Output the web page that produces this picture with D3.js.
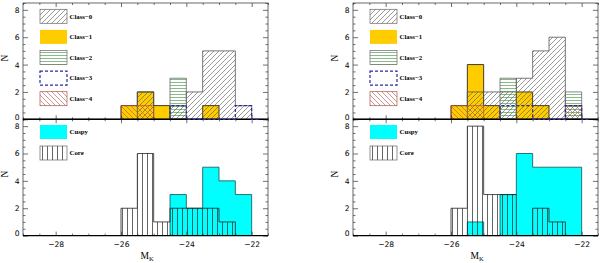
<!DOCTYPE html>
<html><head><meta charset="utf-8">
<script src="https://cdn.jsdelivr.net/npm/d3@7"></script>
<style>body{margin:0;background:#fff}</style>
</head><body><svg id="c" width="600" height="263"></svg>
<script>
// ---------- data ----------
const binStarts = [-26, -25.5, -25, -24.5, -24, -23.5, -23, -22.5];
const binWidth = 0.5;
const xTicks = [-28, -26, -24, -22];
const yTicks = [0, 2, 4, 6, 8];
const classNames = ["Class\u22120", "Class\u22121", "Class\u22122", "Class\u22123", "Class\u22124"];
const morphNames = ["Cuspy", "Core"];

const leftClass0 = [0, 2, 0, 1, 2, 5, 5, 1];
const leftClass1 = [1, 2, 1, 0, 0, 1, 0, 0];
const leftClass2 = [0, 0, 0, 3, 0, 0, 0, 0];
const leftClass3 = [0, 0, 0, 1, 0, 0, 0, 1];
const leftClass4 = [1, 1, 0, 0, 0, 0, 0, 0];
const leftCuspy  = [0, 0, 0, 3, 2, 5, 4, 3];
const leftCore   = [2, 6, 1, 2, 2, 2, 1, 0];

const rightClass0 = [0, 2, 2, 2, 3, 5, 6, 1];
const rightClass1 = [1, 4, 1, 0, 2, 1, 0, 0];
const rightClass2 = [0, 0, 0, 3, 0, 0, 0, 2];
const rightClass3 = [0, 0, 0, 1, 1, 0, 0, 1];
const rightClass4 = [1, 1, 0, 0, 0, 0, 0, 1];
const rightCuspy  = [0, 1, 0, 3, 6, 5, 5, 5];
const rightCore   = [2, 8, 3, 3, 0, 2, 1, 0];

// ---------- layout ----------
const svg = d3.select("#c");
const PW = 245;
const topRange = [119.3, 3], botRange = [235.6, 119.3];
const YELLOW = "#FFCC00", CYAN = "#00FFFF";
const C0 = "#555", C2 = "#3a8a3a", C3 = "#2a2aa0", C4 = "#b0504a";

const defs = svg.append("defs");
function pat(id, size, d, color, w) {
  const p = defs.append("pattern").attr("id", id).attr("patternUnits", "userSpaceOnUse")
    .attr("width", size).attr("height", size);
  p.append("path").attr("d", d).attr("stroke", color).attr("stroke-width", w).attr("fill", "none");
}
pat("h0", 5, "M-1,1 L1,-1 M0,5 L5,0 M4,6 L6,4", C0, 0.6);
pat("h4", 5, "M-1,4 L1,6 M0,0 L5,5 M4,-1 L6,1", C4, 0.6);
pat("h2", 3, "M0,1.5 L3,1.5", C2, 0.6);
pat("hv", 5, "M2.5,0 L2.5,5", "#222", 0.7);

function stepPts(counts, extend) {
  const first = counts.findIndex(c => c > 0);
  let last = counts.length - 1;
  while (last >= 0 && counts[last] === 0) last--;
  const pts = [[binStarts[first], 0]];
  for (let i = first; i <= last; i++) {
    pts.push([binStarts[i], counts[i]]);
    pts.push([binStarts[i] + binWidth, counts[i]]);
  }
  pts.push([binStarts[last] + binWidth, 0]);
  if (extend !== undefined) pts.push([extend, 0]);
  return pts;
}
function drawHist(g, x, y, counts, o) {
  const line = d3.line().x(d => x(d[0])).y(d => y(d[1]));
  const pts = stepPts(counts, o.extend);
  if (o.fill) g.append("path").attr("d", line(pts) + "Z").attr("fill", o.fill).attr("stroke", "none");
  g.append("path").attr("d", line(pts)).attr("fill", "none")
    .attr("stroke", o.stroke).attr("stroke-width", o.sw || 0.8)
    .attr("stroke-dasharray", o.dash || null);
}

function axisStyle(a) {
  a.select(".domain").remove();
  a.selectAll("line").attr("stroke", "#333").attr("stroke-width", 0.7);
  a.selectAll("text").attr("font-family", "DejaVu Sans").attr("font-size", 7.6).attr("fill", "#000");
}

function frame(px, yr, xLabels) {
  const x = d3.scaleLinear().domain([-29, -21.5]).range([px, px + PW]);
  const y = d3.scaleLinear().domain([0, 8.5]).range(yr);
  const xMinor = d3.range(-29, -21.49, 0.5).filter(v => !xTicks.includes(v));
  const yMinor = d3.range(0, 8.51, 0.5).filter(v => !yTicks.includes(v));
  // left axis
  const la = svg.append("g").attr("transform", `translate(${px},0)`)
    .call(d3.axisLeft(y).tickValues(yTicks).tickSize(-5).tickPadding(3.5).tickFormat(d3.format("d")));
  axisStyle(la);
  la.selectAll(".tick").filter(d => d === 0).select("text").attr("dy", "0.32em").attr("y", -2.4);
  axisStyle(svg.append("g").attr("transform", `translate(${px},0)`)
    .call(d3.axisLeft(y).tickValues(yMinor).tickSize(-2.5).tickFormat("")));
  // right axis
  axisStyle(svg.append("g").attr("transform", `translate(${px + PW},0)`)
    .call(d3.axisRight(y).tickValues(yTicks).tickSize(-5).tickFormat("")));
  axisStyle(svg.append("g").attr("transform", `translate(${px + PW},0)`)
    .call(d3.axisRight(y).tickValues(yMinor).tickSize(-2.5).tickFormat("")));
  // top axis
  axisStyle(svg.append("g").attr("transform", `translate(0,${yr[1]})`)
    .call(d3.axisTop(x).tickValues(xTicks).tickSize(-4).tickFormat("")));
  axisStyle(svg.append("g").attr("transform", `translate(0,${yr[1]})`)
    .call(d3.axisTop(x).tickValues(xMinor).tickSize(-2).tickFormat("")));
  // bottom axis
  axisStyle(svg.append("g").attr("transform", `translate(0,${yr[0]})`)
    .call(d3.axisBottom(x).tickValues(xTicks).tickSize(-4).tickPadding(6)
      .tickFormat(xLabels ? (d => d3.format("d")(d).replace("-", "\u2212")) : "")));
  axisStyle(svg.append("g").attr("transform", `translate(0,${yr[0]})`)
    .call(d3.axisBottom(x).tickValues(xMinor).tickSize(-2).tickFormat("")));
  svg.append("rect").attr("x", px).attr("y", yr[1]).attr("width", PW).attr("height", yr[0] - yr[1])
    .attr("fill", "none").attr("stroke", "#444").attr("stroke-width", 0.8);
  return { x, y };
}

function panel(px, cls, cuspy, core) {
  const gT = svg.append("g"), gB = svg.append("g");
  const x = d3.scaleLinear().domain([-29, -21.5]).range([px, px + PW]);
  const yT = d3.scaleLinear().domain([0, 8.5]).range(topRange);
  const yB = d3.scaleLinear().domain([0, 8.5]).range(botRange);

  // top histograms
  drawHist(gT, x, yT, cls[1], { fill: YELLOW, stroke: "#111", sw: 0.8 });
  drawHist(gT, x, yT, cls[0], { fill: "url(#h0)", stroke: C0, sw: 0.8 });
  drawHist(gT, x, yT, cls[2], { fill: "url(#h2)", stroke: "#666", sw: 0.8 });
  drawHist(gT, x, yT, cls[4], { fill: "url(#h4)", stroke: C4, sw: 0.7 });
  // bottom histograms
  drawHist(gB, x, yB, cuspy, { fill: CYAN, stroke: "#145050", sw: 0.8 });
  drawHist(gB, x, yB, core, { fill: "url(#hv)", stroke: "#222", sw: 0.8 });

  frame(px, topRange, false);
  frame(px, botRange, true);

  // thick zero line of top panel
  svg.append("line").attr("x1", px).attr("x2", px + PW).attr("y1", yT(0)).attr("y2", yT(0))
    .attr("stroke", "#000").attr("stroke-width", 1.6);
  drawHist(svg, x, yT, cls[3], { stroke: C3, sw: 1.2, dash: "3,2", extend: -21.75 });
  svg.append("line").attr("x1", px).attr("x2", px + PW).attr("y1", yB(0)).attr("y2", yB(0))
    .attr("stroke", "#000").attr("stroke-width", 1.2);

  // legends
  const lx = px + 17, bw = 27, bh = 14;
  const styles = [
    { fill: "url(#h0)", stroke: "#666" },
    { fill: YELLOW, stroke: "none" },
    { fill: "url(#h2)", stroke: "#666" },
    { fill: "none", stroke: C3, dash: "3,2", sw: 1.2 },
    { fill: "url(#h4)", stroke: C4 }
  ];
  classNames.forEach((n, i) => {
    const by = 9.3 + i * 20.6;
    svg.append("rect").attr("x", lx).attr("y", by).attr("width", bw).attr("height", bh)
      .attr("fill", styles[i].fill).attr("stroke", styles[i].stroke)
      .attr("stroke-width", styles[i].sw || 0.7).attr("stroke-dasharray", styles[i].dash || null);
    svg.append("text").attr("x", lx + bw + 2.5).attr("y", by + bh / 2 + 2.3).text(n)
      .attr("font-family", "Liberation Serif").attr("font-weight", "bold").attr("font-size", 6.8);
  });
  const mstyles = [{ fill: CYAN, stroke: "none" }, { fill: "url(#hv)", stroke: "#666" }];
  morphNames.forEach((n, i) => {
    const by = 125 + i * 21;
    svg.append("rect").attr("x", lx).attr("y", by).attr("width", bw).attr("height", bh)
      .attr("fill", mstyles[i].fill).attr("stroke", mstyles[i].stroke).attr("stroke-width", 0.7);
    svg.append("text").attr("x", lx + bw + 2.5).attr("y", by + bh / 2 + 2.3).text(n)
      .attr("font-family", "Liberation Serif").attr("font-weight", "bold").attr("font-size", 6.8);
  });

  // axis titles
  [58, 174].forEach(cy => {
    svg.append("text").attr("transform", `translate(${px - 15},${cy}) rotate(-90)`)
      .attr("text-anchor", "middle").attr("font-family", "Liberation Serif").attr("font-size", 9.5).text("N");
  });
  const t = svg.append("text").attr("x", px + 124).attr("y", 259).attr("text-anchor", "middle")
    .attr("font-family", "Liberation Serif").attr("font-size", 9.5);
  t.append("tspan").text("M");
  t.append("tspan").attr("font-size", 6.5).attr("dy", 2).text("K");
}

panel(23, [leftClass0, leftClass1, leftClass2, leftClass3, leftClass4], leftCuspy, leftCore);
panel(353, [rightClass0, rightClass1, rightClass2, rightClass3, rightClass4], rightCuspy, rightCore);
</script>
</body></html>
